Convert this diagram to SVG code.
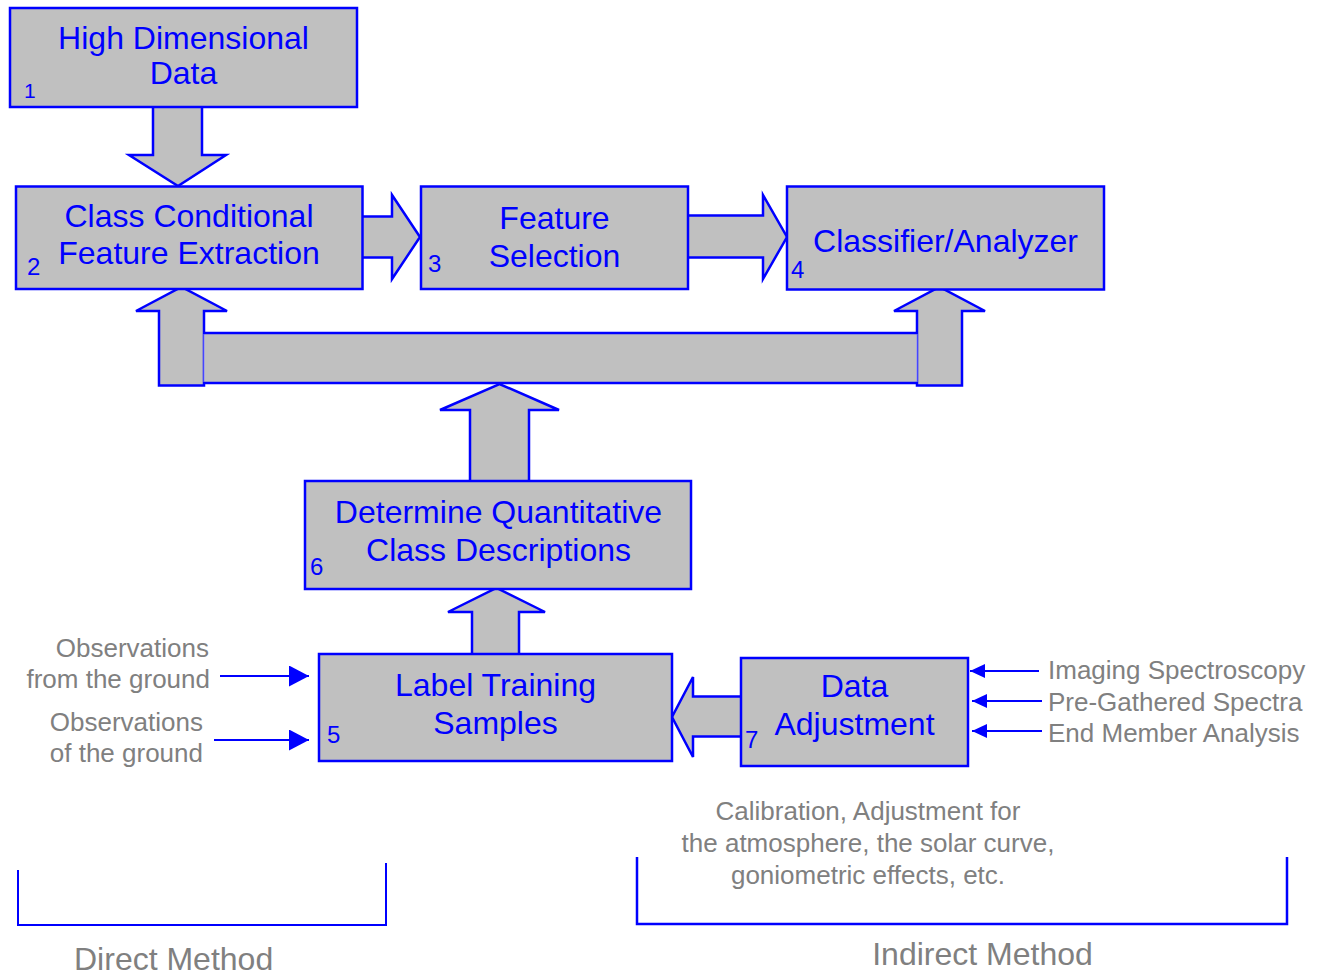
<svg xmlns="http://www.w3.org/2000/svg" width="1322" height="978" viewBox="0 0 1322 978">
<style>
.box{fill:#c0c0c0;stroke:#0000ff;stroke-width:2.5}
.arr{fill:#c0c0c0;stroke:#0000ff;stroke-width:2.5;stroke-linejoin:miter}
.t{font-family:"Liberation Sans",Arial,sans-serif;font-size:32px;fill:#0000ff;text-anchor:middle}
.n{font-family:"Liberation Sans",Arial,sans-serif;font-size:24px;fill:#0000ff}
.g{font-family:"Liberation Sans",Arial,sans-serif;font-size:26px;fill:#808080}
.big{font-family:"Liberation Sans",Arial,sans-serif;font-size:32px;fill:#808080}
.ln{stroke:#0000ff;stroke-width:2;fill:none}
</style>
<defs>
<marker id="ah" markerWidth="20" markerHeight="21" refX="20" refY="10.5" orient="auto" markerUnits="userSpaceOnUse">
<path d="M0,0 L20,10.5 L0,21 Z" fill="#0000ff"/>
</marker>
<marker id="ahs" markerWidth="15" markerHeight="14" refX="15" refY="7" orient="auto" markerUnits="userSpaceOnUse">
<path d="M0,0 L15,7 L0,14 Z" fill="#0000ff"/>
</marker>
</defs>
<rect width="1322" height="978" fill="#ffffff"/>

<g id="connectors">
<path class="arr" d="M153,107 V155 H129 L178,186 L226,155 H202 V107"/>
<path class="arr" d="M362,216.5 H392 V195 L420,237 L392,279 V257.5 H362"/>
<path class="arr" d="M688,215.5 H763 V195 L787,237 L763,279 V257.5 H688"/>
<path class="arr" d="M159,385.5 V311 H136 L181.5,287 L227,311 H204 V385.5 Z"/>
<path class="arr" d="M917,385.5 V311 H894 L939.5,287 L985,311 H962 V385.5 Z"/>
<rect x="204" y="333" width="713" height="50" fill="#c0c0c0"/>
<line x1="204" y1="334" x2="204" y2="382" stroke="#8a8aff" stroke-width="1"/>
<line x1="917" y1="334" x2="917" y2="382" stroke="#8a8aff" stroke-width="1"/>
<line class="ln" x1="204" y1="333" x2="917" y2="333" style="stroke-width:2.5"/>
<line class="ln" x1="204" y1="383" x2="917" y2="383" style="stroke-width:2.5"/>
<path class="arr" d="M470,481 V410 H440 L499.5,384 L559,410 H529 V481"/>
<path class="arr" d="M472,654 V612 H448 L496.5,588 L545,612 H519 V654"/>
<path class="arr" d="M741,696.5 H693 V677 L672,717 L693,757 V736.5 H741"/>
<line class="ln" x1="220" y1="676" x2="309" y2="676" marker-end="url(#ah)"/>
<line class="ln" x1="214" y1="740" x2="309" y2="740" marker-end="url(#ah)"/>
<line class="ln" x1="1039" y1="671" x2="970" y2="671" marker-end="url(#ahs)"/>
<line class="ln" x1="1042" y1="701" x2="972" y2="701" marker-end="url(#ahs)"/>
<line class="ln" x1="1042" y1="731" x2="972" y2="731" marker-end="url(#ahs)"/>
</g>

<g id="node1">
<rect class="box" x="10" y="8" width="347" height="99"/>
<text class="t" x="183.5" y="49">High Dimensional</text>
<text class="t" x="183.5" y="84">Data</text>
<text class="n" x="24" y="98" style="font-size:21px">1</text>
</g>
<g id="node2">
<rect class="box" x="16" y="186.5" width="346.5" height="102.5"/>
<text class="t" x="189" y="227">Class Conditional</text>
<text class="t" x="189" y="264">Feature Extraction</text>
<text class="n" x="27" y="275">2</text>
</g>
<g id="node3">
<rect class="box" x="421" y="186.5" width="267" height="102.5"/>
<text class="t" x="554.5" y="229">Feature</text>
<text class="t" x="554.5" y="267">Selection</text>
<text class="n" x="428" y="272">3</text>
</g>
<g id="node4">
<rect class="box" x="787" y="186.5" width="317" height="103"/>
<text class="t" x="945.5" y="252">Classifier/Analyzer</text>
<text class="n" x="791" y="278">4</text>
</g>
<g id="node6">
<rect class="box" x="305" y="481" width="386" height="108"/>
<text class="t" x="498.5" y="523">Determine Quantitative</text>
<text class="t" x="498.5" y="561">Class Descriptions</text>
<text class="n" x="310" y="575">6</text>
</g>
<g id="node5">
<rect class="box" x="319" y="654" width="353" height="107"/>
<text class="t" x="495.5" y="696">Label Training</text>
<text class="t" x="495.5" y="734">Samples</text>
<text class="n" x="327" y="743">5</text>
</g>
<g id="node7">
<rect class="box" x="741" y="658" width="227" height="108"/>
<text class="t" x="854.5" y="697">Data</text>
<text class="t" x="854.5" y="735">Adjustment</text>
<text class="n" x="745" y="748">7</text>
</g>

<g id="labels">
<text class="g" x="209" y="657" text-anchor="end">Observations</text>
<text class="g" x="210" y="688" text-anchor="end">from the ground</text>
<text class="g" x="203" y="731" text-anchor="end">Observations</text>
<text class="g" x="203" y="762" text-anchor="end">of the ground</text>
<text class="g" x="1048" y="679">Imaging Spectroscopy</text>
<text class="g" x="1048" y="711">Pre-Gathered Spectra</text>
<text class="g" x="1048" y="742">End Member Analysis</text>
<text class="g" x="868" y="820" text-anchor="middle">Calibration, Adjustment for</text>
<text class="g" x="868" y="852" text-anchor="middle">the atmosphere, the solar curve,</text>
<text class="g" x="868" y="884" text-anchor="middle">goniometric effects, etc.</text>
</g>

<g id="brackets">
<path class="ln" d="M18,870 V925 H386 V863"/>
<path class="ln" d="M637,857 V924 H1287 V857" style="stroke-width:2.5"/>
<text class="big" x="74" y="970">Direct  Method</text>
<text class="big" x="982.5" y="965" text-anchor="middle">Indirect Method</text>
</g>
</svg>
